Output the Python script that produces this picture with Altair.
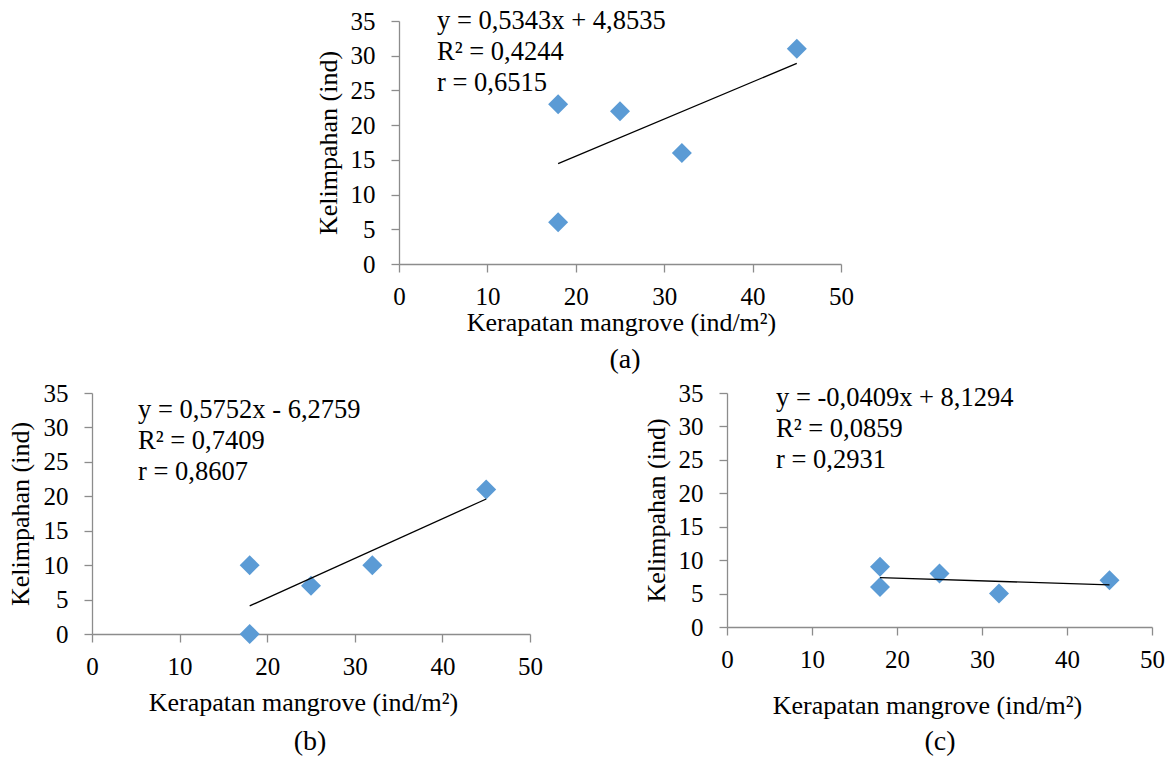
import altair as alt
import pandas as pd

# ---------------- data ----------------
x_vals = [18, 18, 25, 32, 45]
y_a = [6, 23, 22, 16, 31]
y_b = [0, 10, 7, 10, 21]
y_c = [6, 9, 8, 5, 7]

eq_a = ["y = 0,5343x + 4,8535", "R² = 0,4244", "r = 0,6515"]
eq_b = ["y = 0,5752x - 6,2759", "R² = 0,7409", "r = 0,8607"]
eq_c = ["y = -0,0409x + 8,1294", "R² = 0,0859", "r = 0,2931"]
captions = ["(a)", "(b)", "(c)"]

x_title = "Kerapatan mangrove (ind/m²)"
y_title = "Kelimpahan (ind)"
x_ticks = [0, 10, 20, 30, 40, 50]
y_ticks = [0, 5, 10, 15, 20, 25, 30, 35]

FONT = "Liberation Serif"
BLUE = "#5B9BD5"
GRAY = "#8C8C8C"


def panel(ys, eq, caption, w, h, eq_x, eq_y, cap_x, cap_y, xt_x, xt_y, yt_x,
          x0=0, anchor=None):
    df = pd.DataFrame({"x": x_vals, "y": ys})
    base = alt.Chart(df)
    xenc = alt.X(
        "x:Q",
        scale=alt.Scale(domain=[0, 50], range=[x0, x0 + w], nice=False),
        axis=alt.Axis(
            values=x_ticks, tickCount=6, title=x_title, grid=False,
            titleX=x0 + xt_x, titleY=xt_y, titleAlign="center",
            titleBaseline="alphabetic", labelPadding=12,
            labelFont=FONT, labelFontSize=25, titleFont=FONT,
            labelOverlap=False, labelFlush=False, labelBound=False,
        ),
    )
    yenc = alt.Y(
        "y:Q",
        scale=alt.Scale(domain=[0, 35], nice=False),
        axis=alt.Axis(
            values=y_ticks, tickCount=8, title=y_title, grid=False, offset=-x0,
            titleX=yt_x, titleY=h / 2, titleAngle=270, titleAlign="center",
            titleBaseline="middle", labelPadding=16,
            labelFont=FONT, labelFontSize=25, titleFont=FONT,
            labelOverlap=False, labelFlush=False, labelBound=False,
        ),
    )
    pts = base.mark_point(
        shape="diamond", filled=True, color=BLUE, size=400, opacity=1
    ).encode(x=xenc, y=yenc)
    line = base.transform_regression("x", "y").mark_line(
        color="black", strokeWidth=1.3
    ).encode(x=xenc, y=yenc)
    one = pd.DataFrame({"t": [0]})
    txt = alt.Chart(one).mark_text(
        align="left", baseline="alphabetic", font=FONT, fontSize=26.5,
        lineHeight=31, color="black",
    ).encode(x=alt.value(x0 + eq_x), y=alt.value(eq_y), text=alt.value(eq))
    cap = alt.Chart(one).mark_text(
        align="center", baseline="alphabetic", font=FONT, fontSize=28, color="black",
    ).encode(x=alt.value(x0 + cap_x), y=alt.value(cap_y), text=alt.value(caption))
    layers = [pts, line, txt, cap]
    if anchor is not None:
        # invisible mark fixing the canvas origin
        layers.append(alt.Chart(one).mark_rule(opacity=0).encode(
            x=alt.value(anchor[0]), x2=alt.value(anchor[0] + 1), y=alt.value(anchor[1])
        ))
    return alt.layer(*layers).properties(width=x0 + w, height=h)


pa = panel(y_a, eq_a, captions[0], 442, 243, 38, 7.5, 226, 347, 222, 66, -71,
           x0=307, anchor=(-92, -21))
pb = panel(y_b, eq_b, captions[1], 438, 241, 46, 25, 218, 357, 211, 76, -72)
pc = panel(y_c, eq_c, captions[2], 425, 234, 49, 13, 213, 357, 200, 86, -71)

row2 = alt.hconcat(pb, pc, spacing=197, bounds="flush")

chart = alt.vconcat(pa, row2, spacing=129, bounds="flush").properties(
    padding=0, background="white"
).configure_view(stroke=None).configure_axis(
    domainColor=GRAY, tickColor=GRAY, domainWidth=1.3, tickWidth=1.3, tickSize=8,
    labelFont=FONT, labelFontSize=25, labelColor="black",
    titleFont=FONT, titleFontSize=26, titleFontWeight="normal", titleColor="black",
)

chart.save("out.html", embed_options={"renderer": "svg", "actions": False})
